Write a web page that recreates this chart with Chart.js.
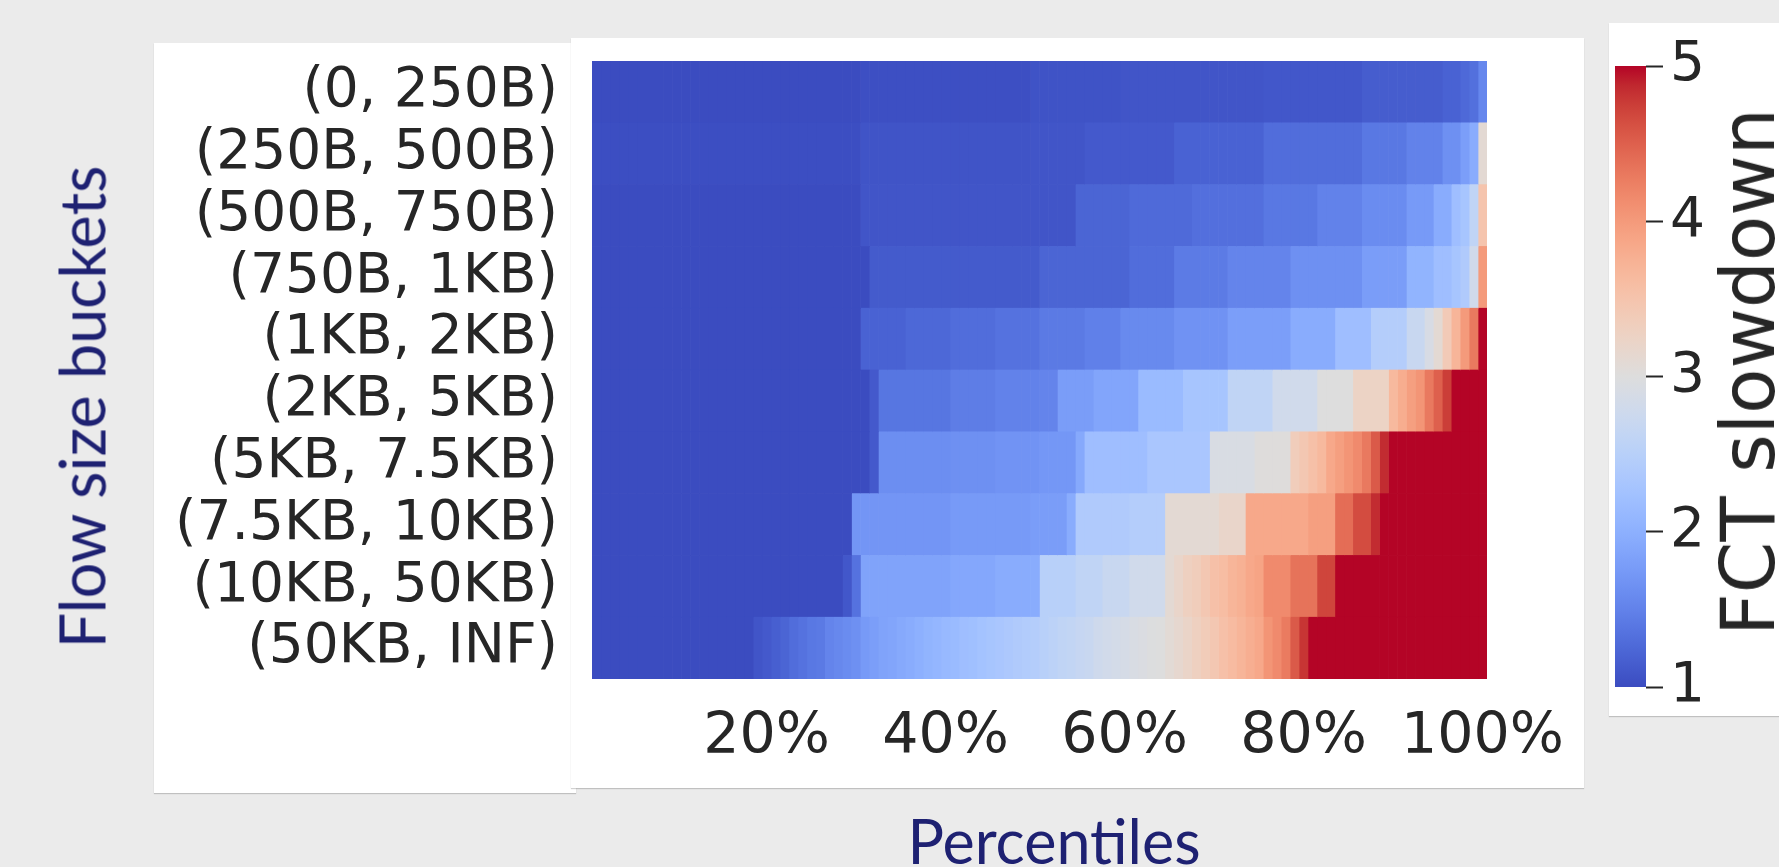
<!DOCTYPE html>
<html>
<head>
<meta charset="utf-8">
<script src="https://cdn.jsdelivr.net/npm/chart.js@4.4.1/dist/chart.umd.min.js"></script>
<style>
  html, body { margin: 0; padding: 0; }
  body { width: 1779px; height: 867px; background: #ebebeb; position: relative; overflow: hidden; }
  .panel { position: absolute; background: #fff; box-shadow: 0 1px 1px rgba(0,0,0,0.18); }
  canvas { position: absolute; top: 0; }
  .label { position: absolute; white-space: nowrap; line-height: 1; }
</style>
</head>
<body>
<div class="panel" style="left:154px;top:43px;width:422px;height:750px"></div>
<div class="panel" style="left:571px;top:38px;width:1013px;height:750px"></div>
<div class="panel" style="left:1609px;top:23px;width:200px;height:693px"></div>

<canvas id="heat" width="1600" height="867" style="left:0"></canvas>
<canvas id="cbar" width="170" height="867" style="left:1609px"></canvas>

<div class="label" style="left:81px;top:407px;font-family:Lato;font-size:63px;color:#1e2172;transform:translate(-50%,-50%) rotate(-90deg)">Flow size buckets</div>
<div class="label" style="left:1054px;top:840px;font-family:Lato;font-size:61px;color:#1e2172;transform:translate(-50%,-50%)">Percentiles</div>
<div class="label" style="left:1748px;top:372px;font-family:'DejaVu Sans';font-size:74px;color:#262626;transform:translate(-50%,-50%) rotate(-90deg)">FCT slowdown</div>

<script>
// flow size buckets, top to bottom
const buckets = ['(0, 250B)', '(250B, 500B)', '(500B, 750B)', '(750B, 1KB)', '(1KB, 2KB)',
                 '(2KB, 5KB)', '(5KB, 7.5KB)', '(7.5KB, 10KB)', '(10KB, 50KB)', '(50KB, INF)'];

// FCT slowdown per percentile (1% .. 100%), one array per bucket
const slow0 = [
  1.0, 1.0, 1.0, 1.0, 1.0, 1.0, 1.0, 1.0, 1.0, 1.0,
  1.0, 1.0, 1.0, 1.0, 1.0, 1.0, 1.0, 1.0, 1.0, 1.0,
  1.0, 1.0, 1.0, 1.0, 1.0, 1.0, 1.0, 1.0, 1.0, 1.0,
  1.03, 1.03, 1.03, 1.03, 1.03, 1.03, 1.03, 1.03, 1.03, 1.03,
  1.03, 1.03, 1.03, 1.03, 1.03, 1.03, 1.03, 1.03, 1.03, 1.06,
  1.06, 1.06, 1.06, 1.06, 1.06, 1.06, 1.06, 1.06, 1.06, 1.08,
  1.08, 1.08, 1.08, 1.08, 1.08, 1.08, 1.08, 1.08, 1.08, 1.08,
  1.08, 1.08, 1.08, 1.08, 1.08, 1.1, 1.1, 1.1, 1.1, 1.1,
  1.1, 1.1, 1.1, 1.1, 1.1, 1.1, 1.15, 1.15, 1.15, 1.15,
  1.15, 1.15, 1.15, 1.15, 1.15, 1.2, 1.2, 1.26, 1.33, 1.55
];
const slow1 = [
  1.02, 1.02, 1.02, 1.02, 1.02, 1.02, 1.02, 1.02, 1.02, 1.02,
  1.02, 1.02, 1.02, 1.02, 1.02, 1.02, 1.02, 1.02, 1.02, 1.02,
  1.02, 1.02, 1.02, 1.02, 1.02, 1.02, 1.02, 1.02, 1.02, 1.02,
  1.07, 1.07, 1.07, 1.07, 1.07, 1.07, 1.07, 1.07, 1.07, 1.07,
  1.07, 1.07, 1.07, 1.07, 1.07, 1.07, 1.07, 1.07, 1.07, 1.08,
  1.08, 1.08, 1.08, 1.08, 1.08, 1.12, 1.12, 1.12, 1.12, 1.12,
  1.12, 1.12, 1.12, 1.12, 1.12, 1.2, 1.2, 1.2, 1.2, 1.2,
  1.2, 1.2, 1.2, 1.2, 1.2, 1.3, 1.3, 1.3, 1.3, 1.3,
  1.3, 1.3, 1.3, 1.3, 1.3, 1.3, 1.4, 1.4, 1.4, 1.4,
  1.4, 1.5, 1.5, 1.5, 1.5, 1.65, 1.65, 1.8, 1.95, 3.1
];
const slow2 = [
  1.0, 1.0, 1.0, 1.0, 1.0, 1.0, 1.0, 1.0, 1.0, 1.0,
  1.0, 1.0, 1.0, 1.0, 1.0, 1.0, 1.0, 1.0, 1.0, 1.0,
  1.0, 1.0, 1.0, 1.0, 1.0, 1.0, 1.0, 1.0, 1.0, 1.0,
  1.08, 1.08, 1.08, 1.08, 1.08, 1.08, 1.08, 1.08, 1.08, 1.08,
  1.08, 1.08, 1.08, 1.08, 1.08, 1.08, 1.08, 1.08, 1.08, 1.08,
  1.08, 1.08, 1.08, 1.08, 1.22, 1.22, 1.22, 1.22, 1.22, 1.22,
  1.27, 1.27, 1.27, 1.27, 1.27, 1.27, 1.27, 1.32, 1.32, 1.32,
  1.32, 1.32, 1.32, 1.32, 1.32, 1.4, 1.4, 1.4, 1.4, 1.4,
  1.4, 1.5, 1.5, 1.5, 1.5, 1.5, 1.6, 1.6, 1.6, 1.6,
  1.6, 1.75, 1.75, 1.75, 1.95, 1.95, 2.2, 2.3, 2.6, 3.5
];
const slow3 = [
  1.0, 1.0, 1.0, 1.0, 1.0, 1.0, 1.0, 1.0, 1.0, 1.0,
  1.0, 1.0, 1.0, 1.0, 1.0, 1.0, 1.0, 1.0, 1.0, 1.0,
  1.0, 1.0, 1.0, 1.0, 1.0, 1.0, 1.0, 1.0, 1.0, 1.0,
  1.0, 1.13, 1.13, 1.13, 1.13, 1.13, 1.13, 1.13, 1.13, 1.13,
  1.13, 1.13, 1.13, 1.13, 1.13, 1.13, 1.13, 1.13, 1.13, 1.13,
  1.22, 1.22, 1.22, 1.22, 1.22, 1.22, 1.22, 1.22, 1.22, 1.22,
  1.3, 1.3, 1.3, 1.3, 1.3, 1.43, 1.43, 1.43, 1.43, 1.43,
  1.43, 1.52, 1.52, 1.52, 1.52, 1.52, 1.52, 1.52, 1.65, 1.65,
  1.65, 1.65, 1.65, 1.65, 1.65, 1.65, 1.78, 1.78, 1.78, 1.78,
  1.78, 2.05, 2.05, 2.05, 2.2, 2.2, 2.3, 2.4, 2.8, 4.0
];
const slow4 = [
  1.0, 1.0, 1.0, 1.0, 1.0, 1.0, 1.0, 1.0, 1.0, 1.0,
  1.0, 1.0, 1.0, 1.0, 1.0, 1.0, 1.0, 1.0, 1.0, 1.0,
  1.0, 1.0, 1.0, 1.0, 1.0, 1.0, 1.0, 1.0, 1.0, 1.0,
  1.2, 1.2, 1.2, 1.2, 1.2, 1.25, 1.25, 1.25, 1.25, 1.25,
  1.3, 1.3, 1.3, 1.3, 1.3, 1.35, 1.35, 1.35, 1.35, 1.35,
  1.42, 1.42, 1.42, 1.42, 1.42, 1.48, 1.48, 1.48, 1.48, 1.58,
  1.58, 1.58, 1.58, 1.58, 1.58, 1.67, 1.67, 1.67, 1.67, 1.67,
  1.67, 1.8, 1.8, 1.8, 1.8, 1.8, 1.8, 1.8, 1.95, 1.95,
  1.95, 1.95, 1.95, 2.2, 2.2, 2.2, 2.2, 2.45, 2.45, 2.45,
  2.45, 2.7, 2.7, 2.9, 3.1, 3.4, 3.7, 4.0, 4.3, 5.0
];
const slow5 = [
  1.0, 1.0, 1.0, 1.0, 1.0, 1.0, 1.0, 1.0, 1.0, 1.0,
  1.0, 1.0, 1.0, 1.0, 1.0, 1.0, 1.0, 1.0, 1.0, 1.0,
  1.0, 1.0, 1.0, 1.0, 1.0, 1.0, 1.0, 1.0, 1.0, 1.0,
  1.0, 1.12, 1.38, 1.38, 1.38, 1.38, 1.38, 1.38, 1.38, 1.38,
  1.45, 1.45, 1.45, 1.45, 1.45, 1.5, 1.5, 1.5, 1.5, 1.5,
  1.52, 1.52, 1.78, 1.78, 1.78, 1.78, 1.87, 1.87, 1.87, 1.87,
  1.87, 2.15, 2.15, 2.15, 2.15, 2.15, 2.3, 2.3, 2.3, 2.3,
  2.3, 2.6, 2.6, 2.6, 2.6, 2.6, 2.8, 2.8, 2.8, 2.8,
  2.8, 3.0, 3.0, 3.0, 3.0, 3.25, 3.25, 3.25, 3.25, 3.65,
  3.8, 3.95, 4.05, 4.3, 4.5, 4.75, 5.0, 5.0, 5.0, 5.0
];
const slow6 = [
  1.0, 1.0, 1.0, 1.0, 1.0, 1.0, 1.0, 1.0, 1.0, 1.0,
  1.0, 1.0, 1.0, 1.0, 1.0, 1.0, 1.0, 1.0, 1.0, 1.0,
  1.0, 1.0, 1.0, 1.0, 1.0, 1.0, 1.0, 1.0, 1.0, 1.0,
  1.0, 1.12, 1.62, 1.62, 1.62, 1.62, 1.62, 1.62, 1.62, 1.62,
  1.65, 1.65, 1.65, 1.65, 1.65, 1.68, 1.68, 1.68, 1.68, 1.68,
  1.72, 1.72, 1.72, 1.72, 1.92, 2.2, 2.2, 2.2, 2.2, 2.2,
  2.2, 2.2, 2.33, 2.33, 2.33, 2.33, 2.33, 2.33, 2.33, 2.92,
  2.92, 2.92, 2.92, 2.92, 3.02, 3.02, 3.02, 3.02, 3.35, 3.45,
  3.55, 3.65, 3.85, 3.95, 4.05, 4.15, 4.3, 4.55, 4.85, 5.0,
  5.0, 5.0, 5.0, 5.0, 5.0, 5.0, 5.0, 5.0, 5.0, 5.0
];
const slow7 = [
  1.0, 1.0, 1.0, 1.0, 1.0, 1.0, 1.0, 1.0, 1.0, 1.0,
  1.0, 1.0, 1.0, 1.0, 1.0, 1.0, 1.0, 1.0, 1.0, 1.0,
  1.0, 1.0, 1.0, 1.0, 1.0, 1.0, 1.0, 1.0, 1.0, 1.7,
  1.7, 1.7, 1.7, 1.7, 1.7, 1.7, 1.7, 1.7, 1.7, 1.7,
  1.75, 1.75, 1.75, 1.75, 1.75, 1.75, 1.75, 1.75, 1.75, 1.78,
  1.78, 1.78, 1.78, 1.95, 2.4, 2.4, 2.4, 2.4, 2.4, 2.4,
  2.45, 2.45, 2.45, 2.45, 3.1, 3.1, 3.1, 3.1, 3.1, 3.1,
  3.2, 3.2, 3.2, 3.85, 3.85, 3.85, 3.85, 3.85, 3.85, 3.85,
  3.95, 3.95, 3.95, 4.4, 4.4, 4.65, 4.65, 4.85, 5.0, 5.0,
  5.0, 5.0, 5.0, 5.0, 5.0, 5.0, 5.0, 5.0, 5.0, 5.0
];
const slow8 = [
  1.0, 1.0, 1.0, 1.0, 1.0, 1.0, 1.0, 1.0, 1.0, 1.0,
  1.0, 1.0, 1.0, 1.0, 1.0, 1.0, 1.0, 1.0, 1.0, 1.0,
  1.0, 1.0, 1.0, 1.0, 1.0, 1.0, 1.0, 1.0, 1.1, 1.35,
  1.85, 1.85, 1.85, 1.85, 1.85, 1.85, 1.85, 1.85, 1.85, 1.85,
  1.9, 1.9, 1.9, 1.9, 1.9, 1.95, 1.95, 1.95, 1.95, 1.95,
  2.5, 2.5, 2.5, 2.5, 2.6, 2.6, 2.6, 2.7, 2.7, 2.7,
  2.8, 2.8, 2.8, 2.8, 3.1, 3.2, 3.3, 3.35, 3.45, 3.55,
  3.6, 3.7, 3.75, 3.85, 3.9, 4.15, 4.15, 4.15, 4.35, 4.35,
  4.35, 4.7, 4.7, 5.0, 5.0, 5.0, 5.0, 5.0, 5.0, 5.0,
  5.0, 5.0, 5.0, 5.0, 5.0, 5.0, 5.0, 5.0, 5.0, 5.0
];
const slow9 = [
  1.0, 1.0, 1.0, 1.0, 1.0, 1.0, 1.0, 1.0, 1.0, 1.0,
  1.0, 1.0, 1.0, 1.0, 1.0, 1.0, 1.0, 1.0, 1.08, 1.12,
  1.17, 1.22, 1.3, 1.35, 1.4, 1.42, 1.52, 1.56, 1.6, 1.65,
  1.75, 1.8, 1.85, 1.88, 1.92, 1.95, 2.0, 2.05, 2.08, 2.12,
  2.15, 2.2, 2.22, 2.26, 2.3, 2.33, 2.36, 2.4, 2.42, 2.45,
  2.5, 2.55, 2.6, 2.63, 2.67, 2.7, 2.78, 2.82, 2.85, 2.88,
  2.92, 2.95, 2.98, 3.0, 3.08, 3.15, 3.22, 3.3, 3.37, 3.45,
  3.55, 3.62, 3.7, 3.78, 3.85, 4.05, 4.15, 4.28, 4.55, 4.8,
  5.0, 5.0, 5.0, 5.0, 5.0, 5.0, 5.0, 5.0, 5.0, 5.0,
  5.0, 5.0, 5.0, 5.0, 5.0, 5.0, 5.0, 5.0, 5.0, 5.0
];

// x tick percentiles and their labels
const xTickPercentiles = [20, 40, 60, 80, 100];
const xTickLabels = ['20%', '40%', '60%', '80%', '100%'];

// colour bar range and ticks
const cbarRange = [1, 5];
const cbarTicks = [1, 2, 3, 4, 5];

const slowdown = [slow0, slow1, slow2, slow3, slow4, slow5, slow6, slow7, slow8, slow9];

// matplotlib "coolwarm" (Moreland) control colours
const COOLWARM = [
  [59,76,192],[68,90,204],[77,104,215],[87,117,225],[98,130,234],[108,142,241],
  [119,154,247],[130,165,251],[141,176,254],[152,185,255],[163,194,255],[174,201,253],
  [184,208,249],[194,213,244],[204,217,238],[213,219,230],[221,221,221],[229,216,209],
  [236,211,197],[241,204,185],[245,196,173],[247,187,160],[247,177,148],[247,166,135],
  [244,154,123],[241,141,111],[236,127,99],[229,112,88],[222,96,77],[213,80,66],
  [203,62,56],[192,40,47],[180,4,38]
];

function coolwarm(v) {
  const t = Math.min(1, Math.max(0, (v - cbarRange[0]) / (cbarRange[1] - cbarRange[0])));
  const x = t * (COOLWARM.length - 1);
  const i = Math.min(Math.floor(x), COOLWARM.length - 2);
  const f = x - i;
  const a = COOLWARM[i], b = COOLWARM[i + 1];
  const c = a.map((ch, k) => Math.round(ch + (b[k] - ch) * f));
  return `rgb(${c[0]},${c[1]},${c[2]})`;
}

// one stacked dataset per percentile column, each one percentile wide
const datasets = slow0.map((_, col) => ({
  label: (col + 1) + '%',
  xAxisID: 'x',
  data: buckets.map(() => 1),
  backgroundColor: buckets.map((b, row) => coolwarm(slowdown[row][col])),
  borderWidth: 0,
  barPercentage: 1,
  categoryPercentage: 1,
}));

const tickFont = { family: 'DejaVu Sans' };
const seamColor = 'rgba(255,255,255,0.07)';

// keep tick label overflow from pushing the plot area around
const noScalePadding = (scale) => {
  scale.paddingTop = 0;
  scale.paddingBottom = 0;
  scale.paddingLeft = 0;
  scale.paddingRight = 0;
};

new Chart(document.getElementById('heat'), {
  type: 'bar',
  data: { labels: buckets, datasets: datasets },
  options: {
    indexAxis: 'y',
    responsive: false,
    animation: false,
    events: [],
    layout: { padding: { left: 0, right: 113, top: 61, bottom: 0 } },
    plugins: { legend: { display: false }, tooltip: { enabled: false } },
    scales: {
      x: {
        type: 'linear',
        stacked: true,
        min: 0,
        max: 100,
        grid: { display: false, drawTicks: false },
        border: { display: false },
        afterBuildTicks: (axis) => { axis.ticks = xTickPercentiles.map(p => ({ value: p - 0.5 })); },
        afterFit: (scale) => { scale.height = 188; noScalePadding(scale); },
        ticks: {
          autoSkip: false,
          maxRotation: 0,
          padding: 25,
          color: '#262626',
          font: { ...tickFont, size: 57 },
          callback: (value, index) => xTickLabels[index],
        },
      },
      // faint seams on every percentile column edge, drawn over the cells
      xSeams: {
        type: 'linear',
        position: 'bottom',
        min: 0,
        max: 100,
        z: 1,
        afterBuildTicks: (axis) => {
          axis.ticks = [{ value: 0 }, ...slow0.map((_, i) => ({ value: i + 1 }))];
        },
        afterFit: (scale) => { scale.height = 0; noScalePadding(scale); },
        grid: { drawTicks: false, color: seamColor, lineWidth: 1 },
        border: { display: false },
        ticks: { display: false },
      },
      y: {
        stacked: true,
        z: 1,
        grid: { drawTicks: false, color: seamColor, lineWidth: 1 },
        border: { display: false },
        afterFit: (scale) => { scale.width = 592; noScalePadding(scale); },
        ticks: { autoSkip: false, padding: 34, color: '#262626', font: { ...tickFont, size: 55 } },
      },
    },
  },
});

function cbarGradient(chart) {
  const area = chart.chartArea;
  if (!area) return coolwarm(cbarRange[0]);
  const g = chart.ctx.createLinearGradient(0, area.bottom, 0, area.top);
  COOLWARM.forEach((c, i) => g.addColorStop(i / (COOLWARM.length - 1), `rgb(${c})`));
  return g;
}

new Chart(document.getElementById('cbar'), {
  type: 'bar',
  data: {
    labels: ['FCT slowdown'],
    datasets: [{
      data: [cbarRange],
      backgroundColor: (ctx) => cbarGradient(ctx.chart),
      borderWidth: 0,
      barPercentage: 1,
      categoryPercentage: 1,
    }],
  },
  options: {
    responsive: false,
    animation: false,
    events: [],
    layout: { padding: { left: 6, right: 0, top: 66, bottom: 180 } },
    plugins: { legend: { display: false }, tooltip: { enabled: false } },
    scales: {
      x: { display: false },
      y: {
        position: 'right',
        min: cbarRange[0],
        max: cbarRange[1],
        afterFit: (scale) => { scale.width = 133; noScalePadding(scale); },
        afterBuildTicks: (axis) => { axis.ticks = cbarTicks.map(v => ({ value: v })); },
        grid: { drawOnChartArea: false, drawTicks: true, tickLength: 17, tickWidth: 2, color: '#262626' },
        border: { display: false },
        ticks: { padding: 7, color: '#262626', font: { ...tickFont, size: 55 } },
      },
    },
  },
});
</script>
</body>
</html>
